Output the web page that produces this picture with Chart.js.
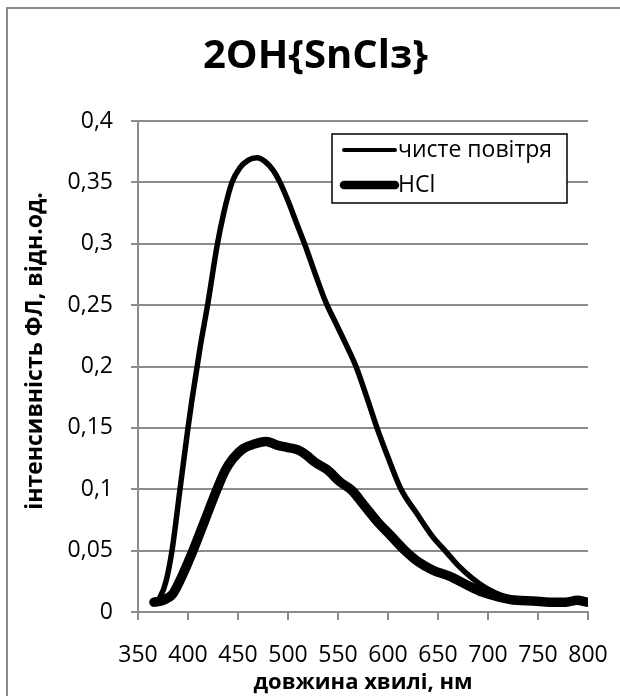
<!DOCTYPE html>
<html>
<head>
<meta charset="utf-8">
<script src="https://cdn.jsdelivr.net/npm/chart.js@4.4.1/dist/chart.umd.min.js"></script>
<style>
  html, body { margin: 0; padding: 0; background: #fff; }
  #wrap { position: relative; width: 620px; height: 696px; overflow: hidden; }
  canvas { display: block; }
</style>
</head>
<body>
<div id="wrap"><canvas id="c" width="620" height="696"></canvas></div>
<script>
// ---- data ----
const chartTitle = "2OH{SnClз}";
const xAxisTitle = "довжина хвилі, нм";
const yAxisTitle = "інтенсивність ФЛ, відн.од.";
const seriesNames = ["чисте повітря", "HCl"];

const airWavelength = [367, 372, 378, 384, 392, 400, 404, 412, 420, 429, 436, 444, 452, 460, 469, 477, 485, 492, 500, 508, 517, 527, 538, 548, 558, 568, 580, 589, 600, 613, 629, 645, 657, 670, 685, 699, 715, 729, 745, 760, 775, 788, 799];
const airIntensity  = [0.008, 0.012, 0.025, 0.050, 0.100, 0.150, 0.173, 0.215, 0.252, 0.298, 0.326, 0.350, 0.362, 0.368, 0.370, 0.367, 0.360, 0.350, 0.335, 0.318, 0.299, 0.276, 0.252, 0.235, 0.218, 0.200, 0.172, 0.150, 0.126, 0.100, 0.080, 0.061, 0.050, 0.038, 0.027, 0.019, 0.013, 0.0095, 0.009, 0.009, 0.008, 0.009, 0.007];

const hclWavelength = [366, 375, 385, 395, 405, 417, 429, 437, 445, 455, 467, 478, 489, 500, 510, 518, 527, 539, 552, 564, 576, 590, 603, 617, 630, 645, 662, 679, 695, 712, 729, 745, 762, 778, 789, 799];
const hclIntensity  = [0.008, 0.0095, 0.015, 0.031, 0.050, 0.075, 0.100, 0.115, 0.125, 0.133, 0.137, 0.139, 0.136, 0.134, 0.132, 0.128, 0.122, 0.116, 0.106, 0.099, 0.087, 0.073, 0.062, 0.050, 0.041, 0.034, 0.029, 0.022, 0.016, 0.012, 0.0095, 0.009, 0.008, 0.008, 0.0095, 0.008];

const xMin = 350, xMax = 800, xStep = 50;
const yMin = 0, yMax = 0.4, yStep = 0.05;

// ---- chart ----
const FONT = "'Open Sans', 'Noto Sans', sans-serif";
const GRID = '#8c8c8c';

function toPoints(xs, ys) { return xs.map((x, i) => ({ x: x, y: ys[i] })); }

const frame = {
  id: 'frame',
  beforeDraw(chart) {
    const ctx = chart.ctx;
    ctx.save();
    ctx.fillStyle = '#fff';
    ctx.fillRect(0, 0, chart.width, chart.height);
    ctx.strokeStyle = '#8a8a8a';
    ctx.lineWidth = 2;
    ctx.beginPath();
    ctx.moveTo(7, chart.height + 5);
    ctx.lineTo(7, 8);
    ctx.lineTo(chart.width + 5, 8);
    ctx.stroke();
    ctx.restore();
  }
};

const yTitle = {
  id: 'yTitle',
  afterDraw(chart) {
    const ctx = chart.ctx;
    ctx.save();
    ctx.translate(35, 351);
    ctx.rotate(-Math.PI / 2);
    ctx.font = "bold 23px " + FONT;
    ctx.fillStyle = '#000';
    ctx.textAlign = 'center';
    ctx.textBaseline = 'middle';
    ctx.fillText(yAxisTitle, 0, 0);
    ctx.restore();
  }
};

const boxLegend = {
  id: 'boxLegend',
  afterDraw(chart) {
    const ctx = chart.ctx;
    const ds = chart.data.datasets;
    ctx.save();
    const bx = 332, by = 134, bw = 235, bh = 69;
    ctx.fillStyle = '#fff';
    ctx.fillRect(bx, by, bw, bh);
    ctx.strokeStyle = '#000';
    ctx.lineWidth = 1.5;
    ctx.strokeRect(bx, by, bw, bh);
    const rows = [150, 185];
    ds.forEach((d, i) => {
      ctx.strokeStyle = d.borderColor;
      ctx.lineWidth = i === 0 ? 4 : 8.5;
      ctx.lineCap = 'round';
      ctx.beginPath();
      ctx.moveTo(344, rows[i]);
      ctx.lineTo(395, rows[i]);
      ctx.stroke();
      ctx.fillStyle = '#000';
      ctx.font = "23px " + FONT;
      ctx.textAlign = 'left';
      ctx.textBaseline = 'middle';
      ctx.fillText(d.label, 398, rows[i]);
    });
    ctx.restore();
  }
};

new Chart(document.getElementById('c'), {
  type: 'line',
  data: {
    datasets: [
      {
        label: seriesNames[0],
        data: toPoints(airWavelength, airIntensity),
        borderColor: '#000',
        backgroundColor: '#000',
        borderWidth: 5.5,
        pointRadius: 0,
        borderCapStyle: 'round',
        borderJoinStyle: 'round',
        cubicInterpolationMode: 'monotone',
        fill: false
      },
      {
        label: seriesNames[1],
        data: toPoints(hclWavelength, hclIntensity),
        borderColor: '#000',
        backgroundColor: '#000',
        borderWidth: 9.5,
        pointRadius: 0,
        borderCapStyle: 'round',
        borderJoinStyle: 'round',
        cubicInterpolationMode: 'monotone',
        fill: false
      }
    ]
  },
  options: {
    responsive: false,
    animation: false,
    layout: { padding: { left: 43, right: 32, top: 0, bottom: 0 } },
    plugins: {
      legend: { display: false },
      tooltip: { enabled: false },
      title: {
        display: true,
        text: chartTitle,
        color: '#000',
        font: { family: FONT, size: 40, weight: 'bold', lineHeight: 1.2 },
        padding: { top: 33, bottom: 40 }
      }
    },
    scales: {
      x: {
        type: 'linear',
        min: xMin, max: xMax,
        afterBuildTicks(scale) {
          const t = [];
          for (let v = xMin; v <= xMax; v += xStep) t.push({ value: v });
          scale.ticks = t;
        },
        afterFit(scale) {
          scale.height = 84;
          scale.paddingLeft = 0;
          scale.paddingRight = 0;
        },
        ticks: {
          color: '#000',
          font: { family: FONT, size: 23 },
          padding: 22,
          maxRotation: 0,
          autoSkip: false,
          callback: v => String(v)
        },
        grid: { drawOnChartArea: false, drawTicks: true, tickLength: 8, color: GRID, lineWidth: 2 },
        border: { display: true, color: GRID, width: 2 },
        title: {
          display: true,
          text: xAxisTitle,
          color: '#000',
          font: { family: FONT, size: 22, weight: 'bold' },
          padding: { top: 0, bottom: 0 }
        }
      },
      y: {
        type: 'linear',
        min: yMin, max: yMax,
        afterBuildTicks(scale) {
          const t = [];
          for (let i = 0; i <= Math.round((yMax - yMin) / yStep); i++) t.push({ value: +(yMin + i * yStep).toFixed(2) });
          scale.ticks = t;
        },
        afterFit(scale) {
          scale.width = 95;
          scale.paddingTop = 0;
          scale.paddingBottom = 0;
        },
        ticks: {
          color: '#000',
          font: { family: FONT, size: 23 },
          padding: 18,
          callback: v => String(+(+v).toFixed(2)).replace('.', ',')
        },
        grid: { drawTicks: true, tickLength: 7, color: GRID, lineWidth: 2 },
        border: { display: true, color: GRID, width: 2 }
      }
    }
  },
  plugins: [frame, yTitle, boxLegend]
});
</script>
</body>
</html>
